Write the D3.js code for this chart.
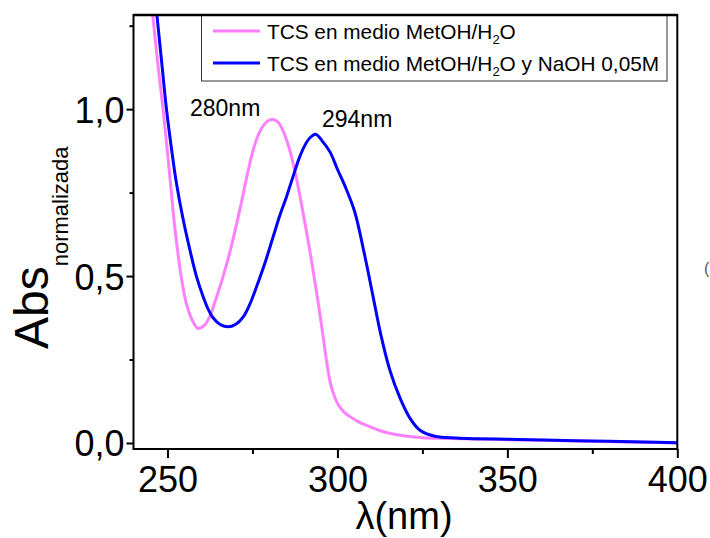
<!DOCTYPE html>
<html>
<head>
<meta charset="utf-8">
<script src="https://cdn.jsdelivr.net/npm/d3@7"></script>
<style>
  html, body { margin: 0; padding: 0; background: #fff; }
  svg { display: block; font-family: "Liberation Sans", Arial, sans-serif; }
</style>
</head>
<body>
<svg id="chart" width="710" height="538"></svg>
<script>
// UV-Vis spectra of TCS (normalized absorbance vs wavelength)
const wlMetOH = [245, 247, 248.7, 250.2, 251.6, 252.8, 254, 255.5, 257.2, 259, 260.8, 262.4, 264.2, 266.4, 268.8, 271.3, 273.4, 275.2, 276.8, 278.3, 279.7, 281.1, 282.6, 284, 285.3, 286.5, 288, 289.7, 291.3, 292.8, 294.2, 295.5, 296.6, 297.7, 298.9, 300.2, 301.8, 303.7, 306.5, 309.5, 312.8, 316.4, 320.5, 325, 330, 340, 350, 360, 370, 380, 390, 400];
const absMetOH = [1.35, 1.15, 1.0, 0.85, 0.70, 0.59, 0.50, 0.42, 0.37, 0.343, 0.352, 0.378, 0.43, 0.50, 0.59, 0.70, 0.80, 0.877, 0.925, 0.952, 0.966, 0.969, 0.96, 0.935, 0.90, 0.857, 0.79, 0.70, 0.61, 0.52, 0.43, 0.34, 0.26, 0.19, 0.145, 0.115, 0.094, 0.079, 0.062, 0.049, 0.036, 0.027, 0.020, 0.016, 0.014, 0.012, 0.010, 0.008, 0.006, 0.004, 0.002, 0.000];

const wlNaOH = [245, 246.6, 248.2, 249.7, 251.2, 252.6, 254.6, 256.6, 258.5, 260.5, 262, 263.4, 265.5, 267.8, 270, 272.3, 274.2, 276.2, 278.7, 281.1, 283, 285, 287, 288.9, 290.5, 292, 293.6, 295.5, 297.8, 300, 302.2, 305.1, 308, 310.4, 312.8, 315.4, 318.4, 321.3, 324.2, 328.7, 335, 340, 350, 360, 370, 380, 390, 400];
const absNaOH = [1.46, 1.31, 1.15, 1.0, 0.88, 0.78, 0.67, 0.578, 0.50, 0.438, 0.40, 0.375, 0.355, 0.348, 0.355, 0.378, 0.415, 0.468, 0.54, 0.618, 0.68, 0.737, 0.80, 0.857, 0.893, 0.915, 0.925, 0.905, 0.872, 0.82, 0.77, 0.692, 0.563, 0.443, 0.323, 0.219, 0.135, 0.075, 0.039, 0.020, 0.015, 0.013, 0.011, 0.009, 0.007, 0.005, 0.003, 0.001];

const xTicks = [250, 300, 350, 400];
const xMinor = [275, 325, 375];
const yTicks = [0, 0.5, 1.0];
const yMinor = [0.25, 0.75, 1.25];
const yTickLabels = ["0,0", "0,5", "1,0"];

const seriesNames = ["TCS en medio MetOH/H", "TCS en medio MetOH/H"];
const seriesTails = ["O", "O y NaOH 0,05M"];
const seriesColors = ["#ff80ff", "#0000ff"];
const peakLabels = [{ text: "280nm", wl: 280 }, { text: "294nm", wl: 294 }];

const svg = d3.select("#chart");
const pLeft = 133.5, pRight = 677.3, pTop = 15, pBottom = 449;

const x = d3.scaleLinear().domain([240, 400]).range([pLeft, pRight]);
const y = d3.scaleLinear().domain([-0.018, 1.282]).range([pBottom, pTop]);

svg.append("defs").append("clipPath").attr("id", "plotClip")
  .append("rect").attr("x", pLeft).attr("y", pTop)
  .attr("width", pRight - pLeft).attr("height", pBottom - pTop);

const line = d3.line()
  .x(d => x(d[0])).y(d => y(d[1]))
  .curve(d3.curveCatmullRom.alpha(0.5));

const series = [
  d3.zip(wlMetOH, absMetOH),
  d3.zip(wlNaOH, absNaOH)
];

const plot = svg.append("g").attr("clip-path", "url(#plotClip)");
series.forEach((s, i) => {
  plot.append("path").datum(s)
    .attr("fill", "none")
    .attr("stroke", seriesColors[i])
    .attr("stroke-width", 3)
    .attr("stroke-linejoin", "round")
    .attr("d", line);
});

// Axes
const xAxis = svg.append("g").attr("transform", `translate(0,${pBottom})`)
  .call(d3.axisBottom(x).tickValues(xTicks).tickSize(9).tickFormat(d3.format("d")));
const xAxisMinor = svg.append("g").attr("transform", `translate(0,${pBottom})`)
  .call(d3.axisBottom(x).tickValues(xMinor).tickSize(5).tickFormat(""));
const yAxis = svg.append("g").attr("transform", `translate(${pLeft},0)`)
  .call(d3.axisLeft(y).tickValues(yTicks).tickSize(7).tickFormat((d, i) => yTickLabels[i]));
const yAxisMinor = svg.append("g").attr("transform", `translate(${pLeft},0)`)
  .call(d3.axisLeft(y).tickValues(yMinor).tickSize(4).tickFormat(""));

[xAxis, xAxisMinor, yAxis, yAxisMinor].forEach(g => {
  g.select(".domain").remove();
  g.selectAll(".tick line").attr("stroke", "#000").attr("stroke-width", 2);
});
xAxis.selectAll(".tick text")
  .attr("font-size", 36).attr("fill", "#000").attr("dy", null).attr("y", 43)
  .attr("font-family", "Liberation Sans, Arial, sans-serif");
yAxis.selectAll(".tick text")
  .attr("font-size", 36).attr("fill", "#000").attr("x", -9).attr("dy", "0.36em")
  .attr("font-family", "Liberation Sans, Arial, sans-serif");

// Frame
svg.append("rect")
  .attr("x", pLeft).attr("y", pTop)
  .attr("width", pRight - pLeft).attr("height", pBottom - pTop)
  .attr("fill", "none").attr("stroke", "#000").attr("stroke-width", 2);

// Axis titles
svg.append("text")
  .attr("x", 404).attr("y", 529)
  .attr("text-anchor", "middle").attr("font-size", 38).attr("fill", "#000")
  .text("λ(nm)");

const yTitle = svg.append("text")
  .attr("transform", "translate(48,349) rotate(-90)")
  .attr("font-size", 48).attr("fill", "#000");
yTitle.append("tspan").text("Abs");
yTitle.append("tspan").attr("font-size", 22).attr("dy", 20).text("normalizada");

// Peak labels
const peakPos = [[190, 116], [322, 127]];
peakLabels.forEach((p, i) => {
  svg.append("text")
    .attr("x", peakPos[i][0]).attr("y", peakPos[i][1])
    .attr("font-size", 23).attr("fill", "#000")
    .text(p.text);
});

// Legend
const legend = svg.append("g");
legend.append("rect")
  .attr("x", 201.5).attr("y", 15).attr("width", 465.5).attr("height", 66)
  .attr("fill", "#fff").attr("stroke", "#333").attr("stroke-width", 1);
const rowY = [31, 63];
seriesNames.forEach((name, i) => {
  legend.append("line")
    .attr("x1", 213).attr("x2", 260)
    .attr("y1", rowY[i]).attr("y2", rowY[i])
    .attr("stroke", seriesColors[i]).attr("stroke-width", 3);
  const t = legend.append("text")
    .attr("x", 267).attr("y", rowY[i] + 7.5)
    .attr("font-size", 20.8).attr("fill", "#000");
  t.append("tspan").text(name);
  t.append("tspan").attr("font-size", 13).attr("dy", 5).text("2");
  t.append("tspan").attr("dy", -5).text(seriesTails[i]);
});

// Edge of a neighbouring label
svg.append("text")
  .attr("x", 704).attr("y", 274)
  .attr("font-size", 16).attr("fill", "#555")
  .text("(");
// Top edge of the frame over the legend box
svg.append("line")
  .attr("x1", pLeft).attr("x2", pRight).attr("y1", pTop).attr("y2", pTop)
  .attr("stroke", "#000").attr("stroke-width", 2.5);
</script>
</body>
</html>
